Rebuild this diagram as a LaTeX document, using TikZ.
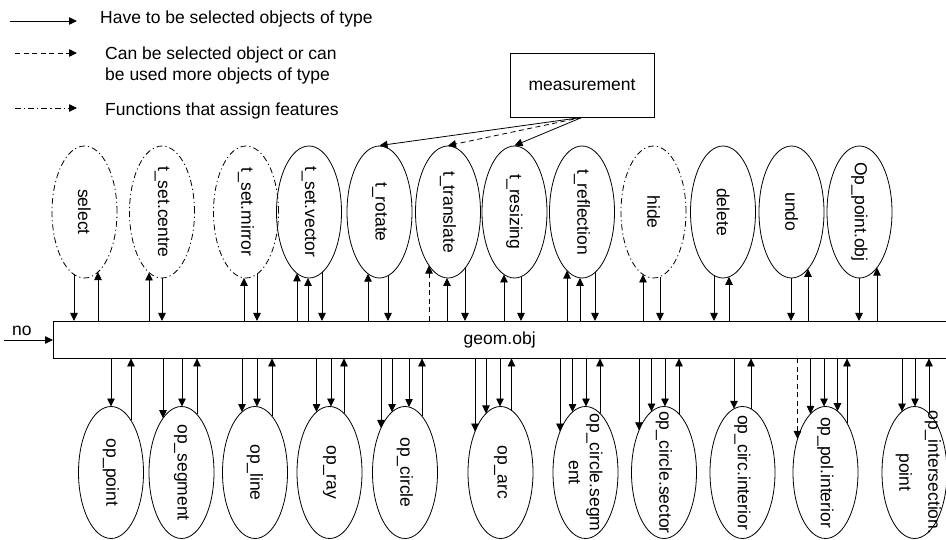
\documentclass[tikz,border=0pt]{standalone}
\usepackage{fontspec}
\setmainfont{Liberation Sans}
\usetikzlibrary{shapes.geometric,arrows.meta,calc}
\tikzset{
  ln/.style={line width=0.8pt},
  toE/.style={line width=0.8pt, -{Triangle[length=8pt,width=7.5pt]}},
  toG/.style={line width=0.8pt, {Triangle[length=8pt,width=7.5pt]}-},
  ell/.style={ellipse, draw, line width=0.8pt, minimum width=65pt, minimum height=132pt, inner sep=0pt},
  ddot/.style={dash pattern=on 6pt off 3pt on 1.2pt off 3pt},
  dsh/.style={dash pattern=on 5pt off 3.5pt},
  vt/.style={rotate=-90, align=center, inner sep=0pt},
}
\newcommand\ellnode[5][]{\node[ell,#1] (#2) at (#3,#4) {}; \node[vt] (#2t) at (#2.center) {#5};}
\newcommand\topc[3][]{\coordinate (tq) at ($(#2.center)+(#3,{66*sqrt(1-(#3)*(#3)/1056.25)})$); \draw[#1] (geom.north -| tq) -- (tq);}
\newcommand\botc[3][]{\coordinate (bq) at ($(#2.center)+(#3,{-66*sqrt(1-(#3)*(#3)/1056.25)})$); \draw[#1] (geom.south -| bq) -- (bq);}
\begin{document}
\begin{tikzpicture}[x=1pt,y=-1pt,font=\fontsize{17.5pt}{21pt}\selectfont]
\useasboundingbox (0,0) rectangle (946,540);

% legend
\coordinate (la1) at (10,21); \coordinate (lb1) at (77,21);
\draw[toE] (la1) -- (lb1);
\coordinate (la2) at (15,53); \coordinate (lb2) at (77,53);
\draw[toE,dsh] (la2) -- (lb2);
\coordinate (la3) at (15,108); \coordinate (lb3) at (77,108);
\draw[toE,ddot] (la3) -- (lb3);
\node[anchor=base west,inner sep=0pt] (lt1) at (100,24) {Have to be selected objects of type};
\node[anchor=base west,inner sep=0pt] (lt2) at (105,60) {Can be selected object or can};
\node[anchor=base west,inner sep=0pt] (lt2b) at (105,81) {be used more objects of type};
\node[anchor=base west,inner sep=0pt] (lt3) at (105,116) {Functions that assign features};

% measurement
\node[draw, ln, minimum width=144pt, minimum height=64pt, inner sep=0pt] (meas) at (582,85) {measurement};

% central block
\node[minimum width=893pt, minimum height=37pt, inner sep=0pt, anchor=north west] (geom) at (53,321) {geom.obj};
\draw[ln] (geom.north east) -- (geom.north west) -- (geom.south west) -- (geom.south east);

% no
\node[anchor=base west,inner sep=0pt] (no) at (12,335) {no};
\coordinate (nos) at (4,340);
\draw[toE] (nos) -- (nos -| geom.west);

% top ellipses
\ellnode[ddot]{sel}{84.5}{212}{select}
\ellnode[ddot]{cen}{162}{212}{t\_set.centre}
\ellnode[ddot]{mir}{246}{212}{t\_set.mirror}
\ellnode{vec}{309}{212}{t\_set.vector}
\ellnode{rot}{379.5}{212}{t\_rotate}
\ellnode{tra}{448}{212}{t\_translate}
\ellnode{res}{514.5}{212}{t\_resizing}
\ellnode{ref}{582}{212}{t\_reflection}
\ellnode[ddot]{hid}{653.5}{212}{hide}
\ellnode{del}{723}{212}{delete}
\ellnode{und}{791.5}{212}{undo}
\ellnode{opo}{859.5}{212}{Op\_point.obj}

% bottom ellipses
\ellnode{bpt}{111}{472.5}{op\_point}
\ellnode{bsg}{181.5}{472.5}{op\_segment}
\ellnode{bln}{255}{472.5}{op\_line}
\ellnode{bry}{329.5}{472.5}{op\_ray}
\ellnode{bci}{405}{472.5}{op\_circle}
\ellnode{bar}{500.5}{472.5}{op\_arc}
\ellnode{bcs}{585.5}{472.5}{op\_circle.segm\\ent}
\ellnode{bse}{664}{472.5}{op\_circle.sector}
\ellnode{bcn}{742.5}{472.5}{op\_circ.interior}
\ellnode{bpl}{825.5}{472.5}{op\_pol.interior}
\node[ell] (bis) at (914.5,472.5) {};
\node[vt] (bist) at ($(bis.center)+(4,0)$) {op\_intersection.\\[8pt]point};

% measurement arrows
\draw[toE] (meas.south) -- (rot.north);
\draw[toE,dsh] (meas.south) -- (tra.north);
\draw[toE] (meas.south) -- (res.north);

% top connectors
\topc[toG]{sel}{-10.5} \topc[toE]{sel}{13.5}
\topc[toE]{cen}{-13} \topc[toG]{cen}{0}
\topc[toE]{mir}{-2} \topc[toG]{mir}{11}
\topc[toE]{vec}{-12} \topc[toE]{vec}{-1} \topc[toG]{vec}{13}
\topc[toE]{rot}{-11.5} \topc[toG]{rot}{8.5}
\topc[toE,dsh]{tra}{-19} \topc[toE]{tra}{-1} \topc[toG]{tra}{17}
\topc[toE]{res}{-10.5} \topc[toG]{res}{6.5}
\topc[toE]{ref}{-15} \topc[toE]{ref}{-2} \topc[toG]{ref}{13}
\topc[toE]{hid}{-10.5} \topc[toG]{hid}{6.5}
\topc[toG]{del}{-9} \topc[toE]{del}{6}
\topc[toG]{und}{-0.5} \topc[toE]{und}{16.5}
\topc[toG]{opo}{-0.5} \topc[toE]{opo}{17.5}

% bottom connectors
\botc[toE]{bpt}{0} \botc[toG]{bpt}{20}
\botc[toE]{bsg}{-18.5} \botc[toE]{bsg}{0.5} \botc[toG]{bsg}{15.5}
\botc[toE]{bln}{-13} \botc[toE]{bln}{2} \botc[toG]{bln}{17}
\botc[toE]{bry}{-13} \botc[toE]{bry}{1.5} \botc[toG]{bry}{14.5}
\botc[toE]{bci}{-24} \botc[toE]{bci}{-13} \botc[toE]{bci}{4} \botc[toG]{bci}{17}
\botc[toE]{bar}{-25.5} \botc[toE]{bar}{-14.5} \botc[toE]{bar}{-0.5} \botc[toG]{bar}{11}
\botc[toE]{bcs}{-25.5} \botc[toE]{bcs}{-13} \botc[toE]{bcs}{0.5} \botc[toG]{bcs}{14.5}
\botc[toE]{bse}{-25} \botc[toE]{bse}{-12.5} \botc[toE]{bse}{1} \botc[toG]{bse}{15}
\botc[toE]{bcn}{-8.5} \botc[toG]{bcn}{8.5}
\botc[toE,dsh]{bpl}{-28} \botc[toE]{bpl}{-15} \botc[toE]{bpl}{-1.5} \botc[toE]{bpl}{12} \botc[toG]{bpl}{21.5}
\botc[toE]{bis}{-12.5} \botc[toE]{bis}{0.5} \botc[toG]{bis}{14.5}
\end{tikzpicture}
\end{document}
